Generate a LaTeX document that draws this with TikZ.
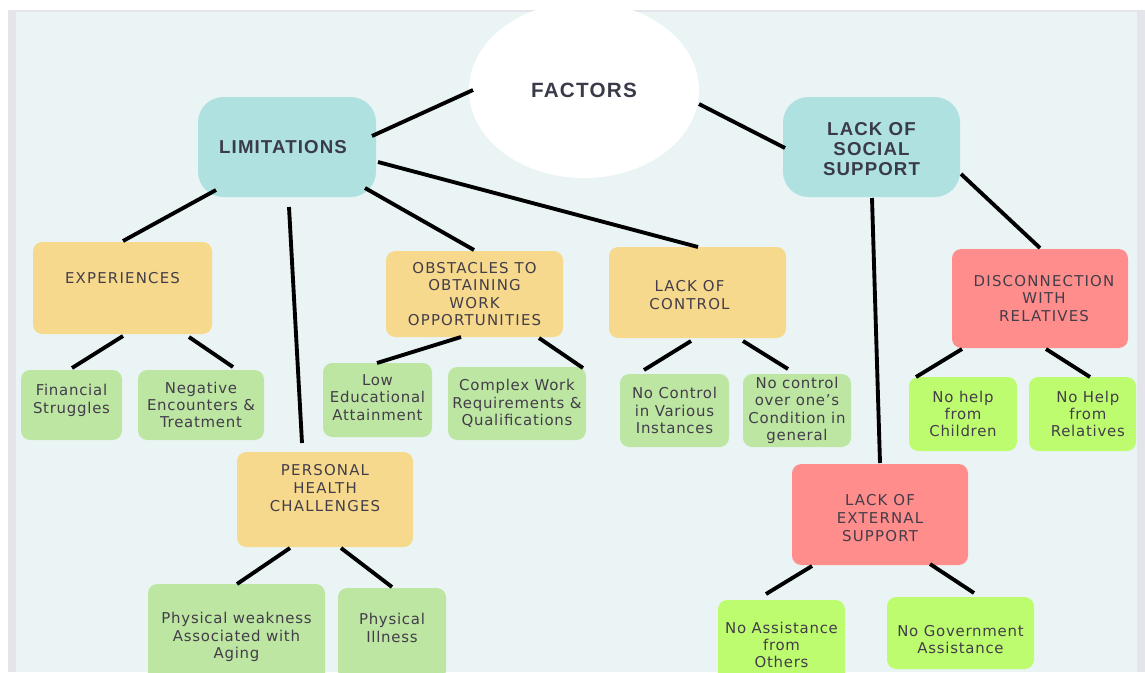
\documentclass[tikz,border=0pt]{standalone}
\usepackage{fontspec}
\usetikzlibrary{shapes.geometric}
\newfontfamily\hdfont{Liberation Sans}[LetterSpace=6]
\newfontfamily\capfont{DejaVu Sans}[LetterSpace=8]
\newfontfamily\bdfont{DejaVu Sans}[LetterSpace=5]
\definecolor{panel}{HTML}{EAF4F5}
\definecolor{edge}{HTML}{E3E5EA}
\definecolor{teal0}{HTML}{AFE1E0}
\definecolor{yel}{HTML}{F6D98C}
\definecolor{lgreen}{HTML}{BCE6A2}
\definecolor{bgreen}{HTML}{BEFC6F}
\definecolor{rose}{HTML}{FF8D8B}
\definecolor{txtc}{HTML}{433D4A}
\definecolor{hdc}{HTML}{3A3B48}
\begin{document}
\begin{tikzpicture}[x=0.75pt,y=-0.75pt,
  box/.style={rectangle, inner sep=0pt, rounded corners=7pt},
  tbox/.style={box, fill=teal0, rounded corners=19pt},
  ybox/.style={box, fill=yel},
  gbox/.style={box, fill=lgreen},
  bbox/.style={box, fill=bgreen},
  rbox/.style={box, fill=rose},
  sz/.style 2 args={minimum width=#1*0.75pt, minimum height=#2*0.75pt},
  hd/.style={font=\hdfont\bfseries\fontsize{14}{15}\selectfont, text=hdc, align=center},
  cp/.style={font=\capfont\fontsize{11.2}{13.2}\selectfont, text=txtc, align=center},
  bd/.style={font=\bdfont\fontsize{11.2}{13}\selectfont, text=txtc, align=center},
  con/.style={line width=2.9pt, black}]
\useasboundingbox (0,0) rectangle (1145,672);
\clip (0,0) rectangle (1145,672);
\fill[white] (0,0) rectangle (1145,672);
\fill[edge] (8,10) rectangle (1145,672);
\fill[panel] (16,12) rectangle (1137,672);

% top level
\node[ellipse, fill=white, inner sep=0pt, sz={230}{176}, hd, font=\hdfont\bfseries\fontsize{15.5}{17}\selectfont] (fac) at (584,90) {FACTORS};
\node[tbox, sz={178}{100}, label={[hd,xshift=-3pt]center:LIMITATIONS}] (lim) at (287,147) {};
\node[tbox, sz={177}{100}, label={[hd,yshift=-1.5pt]center:LACK OF\\SOCIAL\\SUPPORT}] (soc) at (871.5,147) {};

% limitations branch
\node[ybox, sz={179}{92}, label={[cp,yshift=7.5pt]center:EXPERIENCES}] (exp) at (122.5,288) {};
\node[gbox, sz={101}{70}, label={[bd,yshift=3.5pt]center:Financial\\Struggles}] (fin) at (71.5,405) {};
\node[gbox, sz={126}{70}, label={[bd]center:Negative\\Encounters \&\\Treatment}] (neg) at (201,405) {};
\node[ybox, sz={177}{86}, label={[cp]center:OBSTACLES TO\\OBTAINING\\WORK\\OPPORTUNITIES}] (obs) at (474.5,294) {};
\node[gbox, sz={109}{74}, label={[bd,yshift=2pt]center:Low\\Educational\\Attainment}] (low) at (377.5,400) {};
\node[gbox, sz={138}{73}, label={[bd]center:Complex Work\\Requirements \&\\Qualifications}] (cpx) at (517,403.5) {};
\node[ybox, sz={177}{91}, label={[cp,xshift=-6pt,yshift=-2pt]center:LACK OF\\CONTROL}] (ctl) at (697.5,292.5) {};
\node[gbox, sz={109}{73}, label={[bd]center:No Control\\in Various\\Instances}] (ncv) at (674.5,410.5) {};
\node[gbox, sz={108}{73}, label={[bd]center:No control\\over one’s\\Condition in\\general}] (nco) at (797,410.5) {};
\node[ybox, sz={176}{95}, label={[cp,yshift=8.6pt]center:PERSONAL\\HEALTH\\CHALLENGES}] (per) at (325,499.5) {};
\node[gbox, sz={177}{106}, label={[bd]center:Physical weakness\\Associated with\\Aging}] (phw) at (236.5,637) {};
\node[gbox, sz={108}{92}, label={[bd,yshift=4.5pt]center:Physical\\Illness}] (phi) at (392,634) {};

% social support branch
\node[rbox, sz={176}{99}, label={[cp,xshift=3pt]center:DISCONNECTION\\WITH\\RELATIVES}] (dis) at (1040,298.5) {};
\node[bbox, sz={108}{74}, label={[bd]center:No help\\from\\Children}] (chi) at (963,414) {};
\node[bbox, sz={107}{74}, label={[bd,xshift=4pt]center:No Help\\from\\Relatives}] (rel) at (1082.5,414) {};
\node[rbox, sz={176}{101}, label={[cp,yshift=-2.6pt]center:LACK OF\\EXTERNAL\\SUPPORT}] (ext) at (880,514.5) {};
\node[bbox, sz={127}{90}, label={[bd]center:No Assistance\\from\\Others}] (nas) at (781.5,645) {};
\node[bbox, sz={147}{72}, label={[bd,yshift=-5pt]center:No Government\\Assistance}] (ngv) at (960.5,633) {};

% connectors
\draw[con] ([shift={(-111,0)}]fac.center) -- ([shift={(85,-11)}]lim.center);
\draw[con] ([shift={(115,14)}]fac.center) -- ([shift={(-86.5,1)}]soc.center);
\draw[con] ([shift={(-71,43)}]lim.center) -- ([shift={(0.5,-47)}]exp.center);
\draw[con] ([shift={(2,60)}]lim.center) -- ([shift={(-23,-56.5)}]per.center);
\draw[con] ([shift={(78,41)}]lim.center) -- ([shift={(-0.5,-44)}]obs.center);
\draw[con] ([shift={(91,15)}]lim.center) -- ([shift={(0.5,-45.5)}]ctl.center);
\draw[con] ([shift={(0.5,48)}]exp.center) -- ([shift={(0.5,-37)}]fin.center);
\draw[con] ([shift={(66.5,49)}]exp.center) -- ([shift={(32,-38)}]neg.center);
\draw[con] ([shift={(-13.5,43)}]obs.center) -- ([shift={(-0.5,-37)}]low.center);
\draw[con] ([shift={(64.5,44)}]obs.center) -- ([shift={(66,-35.5)}]cpx.center);
\draw[con] ([shift={(-6.5,48.5)}]ctl.center) -- ([shift={(-30.5,-40.5)}]ncv.center);
\draw[con] ([shift={(45.5,48.5)}]ctl.center) -- ([shift={(-9,-41.5)}]nco.center);
\draw[con] ([shift={(0.5,51)}]soc.center) -- ([shift={(0,-51.5)}]ext.center);
\draw[con] ([shift={(89.5,27)}]soc.center) -- ([shift={(0,-50.5)}]dis.center);
\draw[con] ([shift={(-78,50.5)}]dis.center) -- ([shift={(-47,-37)}]chi.center);
\draw[con] ([shift={(6,50.5)}]dis.center) -- ([shift={(7.5,-37)}]rel.center);
\draw[con] ([shift={(-35,48.5)}]per.center) -- ([shift={(0.5,-53)}]phw.center);
\draw[con] ([shift={(16,48.5)}]per.center) -- ([shift={(0,-47)}]phi.center);
\draw[con] ([shift={(-68,51.5)}]ext.center) -- ([shift={(-15.5,-51)}]nas.center);
\draw[con] ([shift={(50,49.5)}]ext.center) -- ([shift={(13.5,-40)}]ngv.center);
\end{tikzpicture}
\end{document}
